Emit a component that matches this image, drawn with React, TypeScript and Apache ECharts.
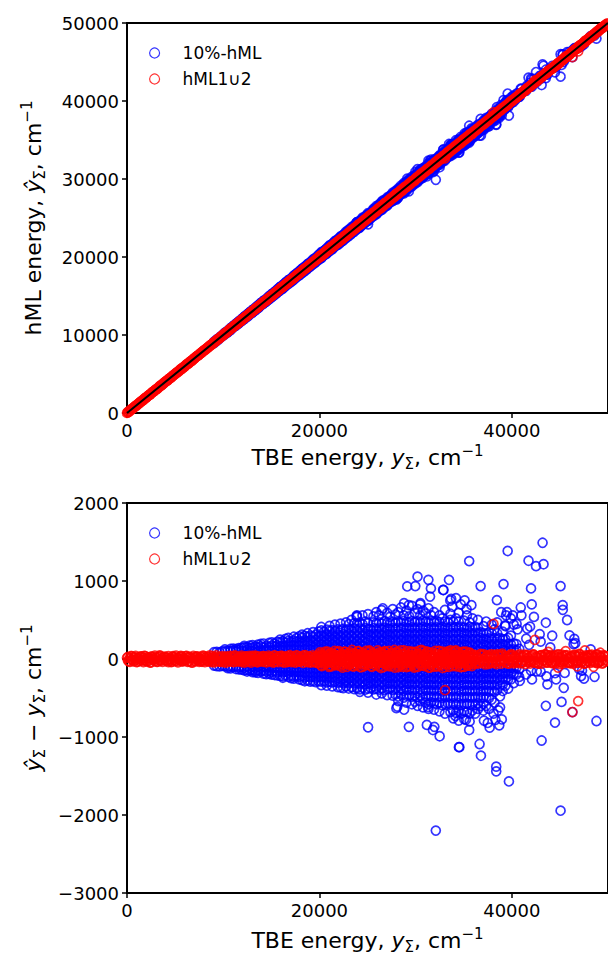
import React, { useEffect, useRef } from "react";
import * as echarts from "echarts";

const FONT = "'DejaVu Sans', 'Noto Sans', sans-serif";

const seriesNames = ["10%-hML", "hML1\u222A2"];
const xTicks = [0, 20000, 40000];
const topYTicks = [0, 10000, 20000, 30000, 40000, 50000];
const bottomYTicks = [-3000, -2000, -1000, 0, 1000, 2000];

// 10%-hML dense core: [TBE energy y, residuals (yhat - y) read in that energy column] (cm-1)
const hml10Columns: [number, number[]][] = [
  [9050,[88,-84]],[9330,[92,-90]],[9620,[86,-95]],[9900,[98,-88]],[10180,[96,122,-92]],
  [10470,[104,-98,-118]],[10760,[100,128,-94,-121]],[11040,[108,132,-102]],[11330,[97,125,-96,-128]],[11610,[112,138,-104,-132]],
  [11900,[105,142,-99,-136]],[12190,[102,148,168,-110,-145]],[12480,[115,152,-98,-138,-160]],[12760,[108,140,172,-112,-150]],
  [13050,[99,146,178,-104,-142,-168]],[13340,[118,158,-109,-153,-172]],[13620,[104,150,184,-101,-146,-178]],
  [13910,[112,160,192,-115,-158]],[14200,[107,148,198,-103,-149,-186]],[14480,[120,165,-110,-160,-195]],
  [14770,[102,155,205,-106,-152,-190]],[15050,[115,170,212,-112,-165,-200]],[15340,[108,158,198,-104,-155,-205]],
  [15620,[122,175,220,-118,-170,-210]],
  [15910,[110,162,215,248,-108,-160,-215]],[16200,[118,172,226,-115,-168,-222,-240]],[16480,[105,160,210,258,-110,-162,-208]],
  [16770,[124,178,232,270,-120,-175,-228]],[17050,[112,165,218,-106,-158,-215,-245]],[17340,[120,175,235,285,-118,-170,-225,-252]],
  [17620,[108,160,220,268,-112,-165,-220]],
  [17910,[118,172,228,290,-115,-168,-230,-262]],[18200,[110,165,220,275,312,-110,-165,-218,-270]],[18480,[125,180,238,296,-120,-178,-235,-285]],
  [18770,[112,170,225,282,330,-108,-162,-222,-276]],[19050,[120,178,240,300,-118,-172,-232,-290]],[19340,[108,165,222,288,345,-112,-168,-228,-282]],
  [19620,[122,182,245,310,-120,-178,-238,-296]],
  [19910,[115,170,230,290,352,-110,-165,-225,-285]],[20200,[125,180,240,300,365,410,-120,-175,-232,-290,-335]],
  [20480,[110,168,228,292,348,-112,-168,-225,-282]],[20770,[128,185,245,310,375,-125,-180,-240,-300,-340]],
  [21050,[115,172,235,298,360,425,-110,-168,-228,-290]],[21340,[122,182,242,305,370,-120,-178,-236,-298,-350]],
  [21620,[112,170,232,296,358,440,-115,-170,-232,-292]],
  [21910,[125,185,248,312,378,-122,-180,-240,-302,-360]],[22200,[115,172,235,300,365,452,-112,-170,-232,-295,-365]],
  [22480,[128,190,252,318,385,-125,-185,-245,-310,-372]],[22770,[112,175,238,305,372,470,-115,-172,-235,-298,-350]],
  [23050,[122,185,250,315,382,445,-120,-180,-242,-305,-378]],[23340,[110,172,236,302,370,500,-112,-172,-238,-300,-360]],
  [23620,[126,188,255,322,390,460,-124,-184,-246,-312,-385]],
  [23910,[115,178,242,308,375,450,540,-115,-175,-240,-305,-372]],[24200,[124,188,254,320,388,465,-122,-184,-248,-315,-390,-420]],
  [24480,[112,175,240,306,374,446,560,-112,-172,-238,-302,-368]],[24770,[128,192,258,326,395,480,-126,-188,-252,-318,-392]],
  [25050,[118,182,248,315,384,458,575,-118,-180,-245,-312,-380,-430]],[25340,[110,174,240,308,378,-114,-176,-242,-308,-372]],
  [25620,[126,190,256,324,394,470,545,-124,-186,-250,-316,-388]],
  [25910,[116,180,246,314,384,460,600,-116,-178,-244,-310,-382,-455]],[26200,[124,188,254,322,392,470,560,-122,-186,-250,-318,-392]],
  [26480,[112,176,242,310,380,455,625,-112,-174,-240,-306,-374,-440]],[26770,[128,194,260,330,400,485,-126,-190,-254,-322,-398]],
  [27050,[118,184,250,318,388,465,590,-118,-182,-248,-314,-386,-462]],[27340,[110,176,244,312,382,458,540,-114,-178,-244,-312,-380]],
  [27620,[126,192,258,326,396,478,640,-124,-188,-252,-320,-395,-470]],
  [27910,[116,182,248,316,386,462,570,-116,-180,-246,-314,-386,-455]],[28200,[124,190,256,326,398,476,600,-122,-188,-254,-322,-396,-480,-540]],
  [28480,[112,178,246,316,388,465,660,-112,-176,-242,-310,-380,-455]],[28770,[128,196,264,334,406,488,560,-128,-194,-260,-330,-404,-495]],
  [29050,[118,186,254,324,396,474,620,-118,-184,-250,-320,-392,-470,-560]],[29340,[110,178,248,318,390,470,545,-114,-180,-248,-318,-390,-465]],
  [29620,[126,194,262,332,404,484,680,-124,-190,-258,-328,-402,-485,-580]],
  [29910,[116,184,252,322,394,472,590,-116,-182,-250,-320,-394,-472,-545]],[30200,[124,192,260,330,402,482,640,-122,-190,-258,-330,-404,-488,-600]],
  [30480,[112,180,250,320,392,470,560,-112,-178,-246,-316,-390,-468,-540]],[30770,[128,196,266,336,410,492,620,-128,-196,-264,-336,-410,-498,-620]],
  [31050,[118,186,256,326,398,478,585,-118,-186,-254,-324,-398,-478,-560]],[31340,[110,178,248,318,390,468,650,-114,-182,-250,-322,-396,-472,-580,-640]],
  [31620,[126,194,262,334,406,486,560,-124,-192,-260,-332,-406,-488,-555]],
  [31910,[116,184,254,324,396,476,600,-116,-184,-252,-324,-398,-480,-565,-650]],[32200,[124,192,262,332,404,484,-122,-190,-260,-332,-406,-490,-580]],
  [32480,[112,180,250,322,394,472,560,-112,-180,-250,-320,-396,-476,-560,-670]],[32770,[128,196,266,338,410,520,-128,-196,-266,-338,-414,-498,-590]],
  [33050,[118,186,256,328,400,480,630,-118,-186,-256,-328,-402,-484,-572,-700]],[33340,[110,178,248,320,392,470,-114,-182,-252,-324,-400,-482,-566]],
  [33620,[126,194,264,336,408,500,580,-124,-192,-262,-334,-410,-494,-585,-680]],
  [33910,[116,184,254,326,398,478,-116,-184,-254,-326,-402,-484,-570,-660,-760]],[34200,[124,192,262,334,406,520,-122,-190,-260,-334,-410,-494,-585,-690]],
  [34480,[112,180,250,322,396,480,590,-112,-180,-250,-322,-398,-480,-568,-660,-790]],[34770,[128,196,266,338,412,-128,-196,-266,-340,-416,-500,-592,-700]],
  [35050,[118,186,256,328,402,490,-118,-186,-256,-330,-406,-488,-576,-670,-770]],[35340,[110,178,248,320,394,560,-114,-182,-252,-326,-402,-486,-574,-680]],
  [35620,[126,194,264,336,410,470,-124,-192,-262,-336,-412,-496,-586,-700,-800]],
  [35910,[116,184,254,326,400,520,-116,-184,-254,-328,-404,-488,-576,-660]],[36200,[124,192,262,334,410,-122,-190,-260,-334,-410,-494,-590,-700]],
  [36480,[112,180,250,324,400,500,-112,-180,-250,-324,-400,-482,-570,-640]],[36770,[128,196,266,340,-128,-196,-266,-340,-416,-500,-600]],
  [37050,[118,186,256,330,420,-118,-186,-256,-330,-406,-490,-575,-660]],[37340,[110,178,248,322,480,-114,-182,-252,-326,-404,-488,-600]],
  [37620,[126,194,264,340,-124,-192,-262,-336,-414,-500,-640]],
  [37910,[116,184,254,330,440,-116,-184,-254,-328,-406,-520]],[38200,[124,192,262,380,-122,-190,-260,-334,-420,-560]],
  [38480,[112,180,250,330,470,-112,-180,-250,-324,-400]],[38770,[128,196,268,-128,-196,-266,-340,-480]],
  [39050,[118,186,256,350,-118,-186,-256,-330,-410]],[39340,[110,178,250,420,-114,-182,-252,-340]],
  [39620,[126,194,270,-124,-192,-262,-380]],
  [39910,[116,186,300,-116,-184,-260]],[40200,[124,200,-122,-190,-310]],[40480,[112,190,-112,-200]],[40770,[130,-128,-230]],
];

// 10%-hML sparse points near the band above 41000 cm-1
const hml10Sparse: number[][] = [
  [41500,262],[42000,-152],[43000,222],[44500,-182],[46000,302],[47500,-252],
  [44000,148],[44600,-262],[45500,-178],[46500,258],[47300,-148],[48200,122],[48600,-228],[43000,-162],[41800,182],[42900,318],[44200,298],
  [41500,-198],[42100,-262],[42600,-158],[43600,-222],[47200,-218],[46600,202],
];

// 10%-hML outliers
const hml10Outliers: number[][] = [
  [43200,1490],[39570,1385],[35570,1255],[41740,1260],[42520,1190],[43300,1215],
  [36760,935],[39140,960],[42000,905],[45070,935],
  [35100,750],[38450,755],[40930,660],[42070,700],[45290,690],[45300,630],[45750,500],[43540,465],[41900,415],[42300,540],[46420,190],
  [30200,1055],[31330,1015],[33470,1015],[29130,930],[29970,935],[31590,905],[32860,885],
  [31500,800],[33700,770],[26590,650],[29300,690],[30480,700],[33800,670],[23870,550],
  [23900,560],[30500,715],[33600,750],[32900,885],[28800,715],
  [34200,780],[34700,700],[35300,640],[35800,690],[38900,600],[39400,560],[39900,520],[40200,440],[40600,380],
  [41000,560],[39500,600],[40100,560],[40500,450],[39300,430],[41600,390],
  [43700,-325],[45400,-370],[43540,-600],[45170,-550],[44490,-815],[43100,-1045],[35570,-910],[34550,-1130],
  [36650,-1090],[36790,-1240],[38380,-1380],[38380,-1440],[39700,-1570],[45070,-1945],[38780,-620],[38960,-775],
  [38700,-850],[40830,-280],[48800,-795],[47020,-130],[46300,-680],
  [25060,-875],[28100,-610],[28800,-650],[29300,-870],[31170,-845],[31950,-870],[34150,-730],[35230,-780],
  [32100,-2200],[32500,-990],[31800,-910],[28000,-630],[31300,-615],[34500,-1130],
  [38100,-700],[38600,-660],[38300,-780],[37500,-820],[37700,-880],[37100,-790],
];

// hML1∪2: [TBE energy y, residual yhat - y] (cm-1)
const hml12Points: number[][] = [
  [0,15],[200,-30],[400,35],[600,-10],[800,25],[1000,-40],[1200,5],[1400,30],[1600,-20],[1800,40],
  [2000,-25],[2200,10],[2400,-45],[2600,30],[2800,-5],[3000,20],[3200,-35],[3400,45],[3600,-15],[3800,25],
  [4000,30],[4200,-15],[4400,0],[4600,-40],[4800,35],[5000,-25],[5200,15],[5400,-5],[5600,40],[5800,-30],
  [6000,-10],[6200,40],[6400,-30],[6600,20],[6800,-45],[7000,10],[7200,30],[7400,-20],[7600,5],[7800,-35],
  [8000,35],[8200,-5],[8400,-25],[8600,45],[8800,-40],[9000,15],[9200,-15],[9400,25],[9600,-30],[9800,10],
  [10000,-40],[10200,25],[10400,10],[10600,-20],[10800,35],[11000,-35],[11200,45],[11400,-10],[11600,20],[11800,-25],
  [12000,20],[12200,-45],[12400,30],[12600,-5],[12800,-30],[13000,40],[13200,-15],[13400,35],[13600,-40],[13800,5],
  [14000,-15],[14200,35],[14400,-35],[14600,15],[14800,25],[15000,-20],[15200,-45],[15400,40],[15600,0],[15800,30],
  [16000,40],[16200,-25],[16400,20],[16600,-40],[16800,5],[17000,35],[17200,-30],[17400,-10],[17600,45],[17800,-20],
  [18000,-30],[18200,15],[18400,45],[18600,-15],[18800,-40],[19000,30],[19200,10],[19400,-35],[19600,25],[19800,-50],
  [20000,60],[20200,-80],[20400,20],[20600,95],[20800,-50],[21000,-100],[21200,75],[21400,-25],[21600,105],[21800,-65],
  [22000,-85],[22200,45],[22400,-110],[22600,90],[22800,-30],[23000,70],[23200,-60],[23400,115],[23600,-95],[23800,15],
  [24000,100],[24200,-40],[24400,-105],[24600,55],[24800,-70],[25000,30],[25200,110],[25400,-90],[25600,65],[25800,-20],
  [26000,-60],[26200,85],[26400,-115],[26600,25],[26800,100],[27000,-45],[27200,-90],[27400,70],[27600,-10],[27800,115],
  [28000,80],[28200,-105],[28400,40],[28600,-65],[28800,110],[29000,-25],[29200,-95],[29400,55],[29600,95],[29800,-75],
  [30000,-100],[30200,60],[30400,-40],[30600,115],[30800,-85],[31000,20],[31200,90],[31400,-110],[31600,45],[31800,-55],
  [32000,70],[32200,-95],[32400,105],[32600,-30],[32800,-115],[33000,50],[33200,-70],[33400,100],[33600,-45],[33800,85],
  [34000,-75],[34200,110],[34400,-55],[34600,35],[34800,-100],[35000,90],[35200,-20],[35400,-85],[35600,75],[35800,-40],
  [36000,55],[36200,-60],[36400,25],[36600,-45],[36800,65],[37000,-20],[37200,-70],[37400,40],[37600,-35],[37800,60],
  [38000,-50],[38200,35],[38400,-65],[38600,50],[38800,-15],[39000,70],[39200,-40],[39400,20],[39600,-60],[39800,45],
  [40000,40],[40200,-55],[40400,15],[40600,-30],[40800,60],[41000,-45],[41200,30],[41400,-65],[41600,50],[41800,-20],
  [42000,-35],[42200,60],[42400,-50],[42600,25],[42800,-60],[43000,45],[43200,-25],[43400,55],[43600,-45],[43800,10],
  [44000,50],[44200,-40],[44400,35],[44600,-55],[44800,20],[45000,-65],[45200,55],[45400,-30],[45600,40],[45800,-50],
  [46000,-45],[46200,30],[46400,-60],[46600,50],[46800,-25],[47000,65],[47200,-40],[47400,15],[47600,-55],[47800,35],
  [48000,45],[48200,-50],[48400,20],[48600,-35],[48800,55],[49000,-45],[49200,30],[49400,-60],[49600,40],[49800,-20],
  [20100,-20],[20300,40],[20500,-55],[20700,10],[20900,60],[21100,-35],[21300,25],[21500,-70],[21700,45],[21900,-5],
  [22100,35],[22300,-15],[22500,60],[22700,-50],[22900,5],[23100,-75],[23300,40],[23500,-25],[23700,70],[23900,-45],
  [24100,-30],[24300,55],[24500,10],[24700,-65],[24900,40],[25100,-10],[25300,-50],[25500,75],[25700,-35],[25900,20],
  [26100,45],[26300,-25],[26500,65],[26700,-55],[26900,-5],[27100,50],[27300,-70],[27500,30],[27700,-40],[27900,60],
  [28100,-45],[28300,20],[28500,-75],[28700,65],[28900,-15],[29100,40],[29300,5],[29500,-60],[29700,25],[29900,-35],
  [30100,35],[30300,-50],[30500,70],[30700,-10],[30900,55],[31100,-65],[31300,-25],[31500,45],[31700,-80],[31900,15],
  [32100,-40],[32300,25],[32500,-60],[32700,55],[32900,10],[33100,-30],[33300,65],[33500,-50],[33700,35],[33900,-15],
  [34100,50],[34300,-35],[34500,15],[34700,-60],[34900,40],[35100,-10],[35300,55],[35500,-45],[35700,20],[35900,-65],
  [43800,90],[44800,-110],[45600,100],[46800,-95],[47600,110],[48500,-100],[49200,80],
  [38100,450],[42400,245],[46900,-540],[46300,-680],[33060,-400],
];

// hML1∪2 additional band columns: [TBE energy y, residuals]
const hml12Columns: [number, number[]][] = [
  [100,[28,-22]],[300,[12,-38]],[500,[35,-8]],[700,[20,-30]],[900,[40,-15]],[1100,[8,-35]],[1300,[25,-25]],[1500,[32,-12]],[1700,[15,-40]],[1900,[38,-18]],
  [2100,[22,-32]],[2300,[10,-20]],[2500,[30,-42]],[2700,[18,-6]],[2900,[42,-28]],[3100,[6,-36]],[3300,[27,-14]],[3500,[36,-24]],[3700,[14,-38]],[3900,[24,-10]],
  [4100,[16,-28]],[4300,[38,-40]],[4500,[9,-18]],[4700,[30,-34]],[4900,[21,-8]],[5100,[44,-26]],[5300,[12,-42]],[5500,[26,-16]],[5700,[34,-30]],[5900,[7,-22]],
  [6100,[36,-12]],[6300,[19,-38]],[6500,[28,-25]],[6700,[11,-44]],[6900,[40,-19]],[7100,[23,-31]],[7300,[33,-9]],[7500,[15,-36]],[7700,[29,-27]],[7900,[42,-14]],
  [8100,[13,-40]],[8300,[31,-21]],[8500,[24,-33]],[8700,[8,-11]],[8900,[37,-29]],[9100,[20,-43]],[9300,[45,-17]],[9500,[17,-26]],[9700,[26,-37]],[9900,[35,-13]],
  [10100,[10,-30]],[10300,[33,-45]],[10500,[22,-20]],[10700,[41,-34]],[10900,[14,-9]],[11100,[29,-39]],[11300,[38,-24]],[11500,[6,-32]],[11700,[27,-16]],[11900,[43,-41]],
  [12100,[18,-27]],[12300,[32,-12]],[12500,[11,-37]],[12700,[39,-22]],[12900,[25,-46]],[13100,[16,-15]],[13300,[44,-31]],[13500,[21,-40]],[13700,[34,-18]],[13900,[9,-28]],
  [14100,[37,-35]],[14300,[24,-10]],[14500,[13,-44]],[14700,[42,-23]],[14900,[28,-32]],[15100,[19,-14]],[15300,[46,-38]],[15500,[10,-26]],[15700,[31,-41]],[15900,[23,-19]],
  [16100,[40,-30]],[16300,[15,-47]],[16500,[33,-12]],[16700,[26,-36]],[16900,[48,-24]],[17100,[12,-39]],[17300,[36,-20]],[17500,[20,-45]],[17700,[44,-29]],[17900,[17,-34]],
  [18100,[38,-16]],[18300,[27,-48]],[18500,[49,-25]],[18700,[14,-37]],[18900,[35,-21]],[19100,[22,-46]],[19300,[46,-33]],[19500,[18,-27]],[19700,[40,-50]],[19900,[29,-15]],
  [20050,[30,-45,85]],[20250,[-15,60,-90]],[20450,[45,-30,-75]],[20650,[10,-60,70]],[20850,[-40,35,95]],[21050,[55,-20,-85]],[21250,[-25,40,-95]],[21450,[65,-50,20]],[21650,[-10,50,-80]],[21850,[35,-65,90]],
  [22050,[-35,25,100]],[22250,[50,-15,-90]],[22450,[5,60,-70]],[22650,[-55,30,95]],[22850,[40,-40,-100]],[23050,[-20,70,-60]],[23250,[55,-25,85]],[23450,[-45,15,-95]],[23650,[30,-70,75]],[23850,[-5,45,-85]],
  [24050,[60,-35,100]],[24250,[-30,25,-105]],[24450,[45,-55,80]],[24650,[-15,65,-90]],[24850,[35,-25,105]],[25050,[-50,50,-75]],[25250,[20,-40,95]],[25450,[-60,35,-100]],[25650,[50,-15,70]],[25850,[-35,60,-85]],
  [26050,[25,-50,110]],[26250,[-45,40,-95]],[26450,[60,-20,85]],[26650,[-10,55,-105]],[26850,[40,-65,90]],[27050,[-55,20,-80]],[27250,[35,-35,105]],[27450,[-25,65,-95]],[27650,[55,-45,75]],[27850,[-40,30,-110]],
  [28050,[45,-15,95]],[28250,[-60,50,-85]],[28450,[20,-40,110]],[28650,[-30,60,-100]],[28850,[55,-55,80]],[29050,[-15,35,-105]],[29250,[40,-25,100]],[29450,[-50,45,-90]],[29650,[30,-60,85]],[29850,[-35,20,-110]],
  [30050,[60,-30,95]],[30250,[-20,55,-100]],[30450,[35,-50,110]],[30650,[-55,25,-85]],[30850,[45,-15,105]],[31050,[-40,65,-95]],[31250,[15,-45,90]],[31450,[-25,40,-110]],[31650,[55,-60,80]],[31850,[-50,30,-100]],
  [32050,[40,-20,105]],[32250,[-35,60,-90]],[32450,[25,-55,100]],[32650,[-60,45,-80]],[32850,[50,-30,95]],[33050,[-15,20,-105]],[33250,[35,-65,85]],[33450,[-45,55,-100]],[33650,[60,-25,110]],[33850,[-30,40,-90]],
  [34050,[45,-50,100]],[34250,[-20,30,-95]],[34450,[55,-40,85]],[34650,[-50,60,-105]],[34850,[30,-15,90]],[35050,[-40,45,-100]],[35250,[20,-60,95]],[35450,[-55,35,-85]],[35650,[40,-25,80]],[35850,[-35,50,-90]],
  [36100,[30,-25]],[36300,[-45,50]],[36500,[20,-60]],[36700,[55,-15]],[36900,[-35,40]],[37100,[60,-50]],[37300,[-20,25]],[37500,[45,-65]],[37700,[-55,15]],[37900,[35,-30]],
  [38100,[-40,55]],[38300,[25,-45]],[38500,[60,-20]],[38700,[-30,35]],[38900,[50,-60]],[39100,[-15,45]],[39300,[40,-35]],[39500,[-50,20]],[39700,[30,-55]],[39900,[-25,60]],
  [40100,[55,-40]],[40300,[-35,25]],[40500,[20,-50]],[40700,[45,-20]],[40900,[-55,35]],[41100,[30,-45]],[41300,[-20,55]],[41500,[50,-30]],[41700,[-40,15]],[41900,[35,-60]],
  [42100,[-30,45]],[42300,[55,-25]],[42500,[-45,30]],[42700,[20,-55]],[42900,[40,-35]],[43100,[-60,50]],[43300,[25,-15]],[43500,[-35,60]],[43700,[50,-45]],[43900,[-20,30]],
  [44100,[35,-50]],[44300,[-55,20]],[44500,[45,-30]],[44700,[-25,55]],[44900,[60,-40]],[45100,[-40,25]],[45300,[30,-60]],[45500,[-15,45]],[45700,[50,-35]],[45900,[-45,15]],
  [46100,[25,-55]],[46300,[-35,40]],[46500,[55,-20]],[46700,[-50,30]],[46900,[40,-45]],[47100,[-20,60]],[47300,[30,-35]],[47500,[-60,25]],[47700,[45,-50]],[47900,[-30,15]],
  [48100,[50,-40]],[48300,[-25,55]],[48500,[35,-30]],[48700,[-45,20]],[48900,[60,-55]],[49100,[-35,40]],[49300,[25,-20]],[49500,[-50,50]],[49700,[40,-35]],[49900,[-15,30]],
];

const diagonal: number[][] = [[0, 0], [50000, 50000]];

const fromColumns = (cols: [number, number[]][]) => cols.flatMap(([x, rs]) => rs.map((r) => [x, r]));
const hml10Points = [...fromColumns(hml10Columns), ...hml10Sparse, ...hml10Outliers];
const hml12All = [...fromColumns(hml12Columns), ...hml12Points];

const minus = (v: number) => (v < 0 ? "\u2212" + Math.abs(v) : String(v));

const nameRich = {
  t: { fontSize: 22, fontFamily: FONT, color: "#000", lineHeight: 28, verticalAlign: "middle" },
  i: { fontSize: 22, fontFamily: FONT, color: "#000", fontStyle: "italic", lineHeight: 28, verticalAlign: "middle" },
  s: { fontSize: 15, fontFamily: FONT, color: "#000", lineHeight: 28, verticalAlign: "bottom" },
  p: { fontSize: 15, fontFamily: FONT, color: "#000", lineHeight: 28, verticalAlign: "top" },
};

export default function App() {
  const ref = useRef<HTMLDivElement>(null);
  useEffect(() => {
    if (!ref.current) return;
    const chart = echarts.init(ref.current, undefined, { renderer: "svg" });
    const blueStyle = { color: "rgba(0,0,0,0)", borderColor: "#0000ff", borderWidth: 1.7 };
    const redStyle = { color: "rgba(0,0,0,0)", borderColor: "#ff0000", borderWidth: 1.7 };
    const gridBase = { left: 127, width: 491, height: 390, show: true, borderColor: "#000", borderWidth: 2, backgroundColor: "rgba(0,0,0,0)" };
    const axisCommon = {
      axisLine: { show: true, onZero: false, lineStyle: { color: "#000", width: 2 } },
      axisTick: { show: true, inside: false, length: 5, lineStyle: { color: "#000", width: 1.5 } },
      splitLine: { show: false },
    };
    const xAxis = (gridIndex: number, gap: number) => ({
      gridIndex,
      type: "value",
      min: xTicks[0],
      max: 50000,
      interval: xTicks[1] - xTicks[0],
      ...axisCommon,
      axisLabel: { color: "#000", fontSize: 18, fontFamily: FONT, margin: 8, showMaxLabel: false, formatter: minus },
      name: "{t|TBE energy, }{i|y}{s|\u03A3}{t|, cm}{p|\u22121}",
      nameLocation: "middle",
      nameGap: gap,
      nameTextStyle: { rich: nameRich },
    });
    const legendData = [
      { name: seriesNames[0], icon: "circle", itemStyle: { ...blueStyle, borderWidth: 1.2 } },
      { name: seriesNames[1], icon: "circle", itemStyle: { ...redStyle, borderWidth: 1.2 } },
    ];
    const legendBase = {
      left: 144,
      orient: "vertical",
      itemWidth: 46,
      itemHeight: 10,
      itemGap: 8,
      selectedMode: false,
      textStyle: { fontSize: 17, fontFamily: FONT, color: "#000", lineHeight: 18 },
      data: legendData,
    };
    const scatter = (name: string, idx: number, data: number[][], style: any, z: number) => ({
      type: "scatter",
      name,
      xAxisIndex: idx,
      yAxisIndex: idx,
      data,
      symbol: "circle",
      symbolSize: 9,
      itemStyle: style,
      emphasis: { disabled: true },
      z,
    });
    chart.setOption({
      animation: false,
      backgroundColor: "#fff",
      grid: [
        { ...gridBase, top: 23 },
        { ...gridBase, top: 503 },
      ],
      xAxis: [xAxis(0, 30), xAxis(1, 33)],
      yAxis: [
        {
          gridIndex: 0,
          type: "value",
          min: topYTicks[0],
          max: topYTicks[topYTicks.length - 1],
          interval: topYTicks[1] - topYTicks[0],
          ...axisCommon,
          axisLabel: { color: "#000", fontSize: 18, fontFamily: FONT, margin: 8, formatter: minus },
          name: "{t|hML energy, }{i|\u0177}{s|\u03A3}{t|, cm}{p|\u22121}",
          nameLocation: "middle",
          nameGap: 80,
          nameTextStyle: { rich: nameRich },
        },
        {
          gridIndex: 1,
          type: "value",
          min: bottomYTicks[0],
          max: bottomYTicks[bottomYTicks.length - 1],
          interval: bottomYTicks[1] - bottomYTicks[0],
          ...axisCommon,
          axisLabel: { color: "#000", fontSize: 18, fontFamily: FONT, margin: 8, formatter: minus },
          name: "{i|\u0177}{s|\u03A3}{t| \u2212 }{i|y}{s|\u03A3}{t|, cm}{p|\u22121}",
          nameLocation: "middle",
          nameGap: 80,
          nameTextStyle: { rich: nameRich },
        },
      ],
      legend: [
        { ...legendBase, top: 39 },
        { ...legendBase, top: 519 },
      ],
      series: [
        scatter(seriesNames[0], 0, hml10Points.map(([x, r]) => [x, x + r]), blueStyle, 2),
        scatter(seriesNames[1], 0, hml12All.map(([x, r]) => [x, x + r]), redStyle, 3),
        {
          type: "line",
          name: "y = x",
          xAxisIndex: 0,
          yAxisIndex: 0,
          data: diagonal,
          symbol: "none",
          lineStyle: { color: "#000", width: 2 },
          emphasis: { disabled: true },
          z: 5,
        },
        scatter(seriesNames[0], 1, hml10Points, blueStyle, 2),
        scatter(seriesNames[1], 1, hml12All, redStyle, 3),
      ],
    });
    return () => chart.dispose();
  }, []);
  return (
    <div
      ref={ref}
      style={{ position: "absolute", left: 0, top: 0, width: 608, height: 958, background: "#fff" }}
    />
  );
}
